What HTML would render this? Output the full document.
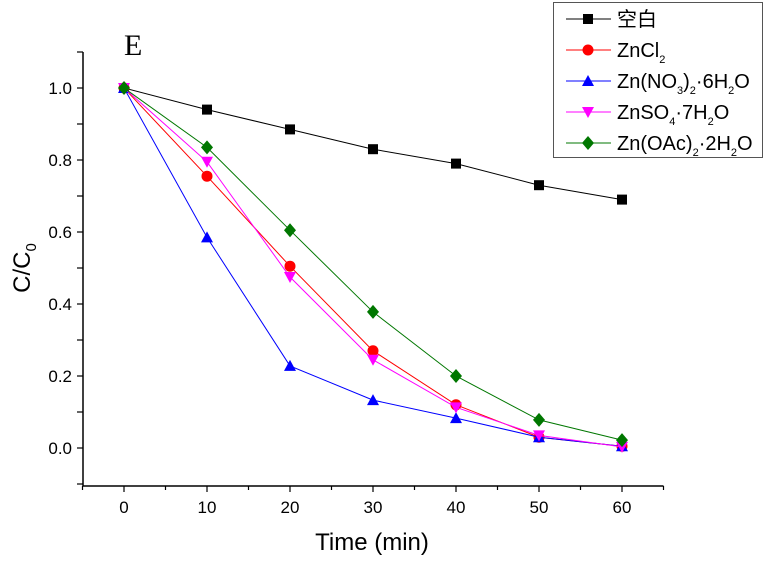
<!DOCTYPE html>
<html><head><meta charset="utf-8"><style>
body{margin:0;background:#fff}
svg text{font-family:"Liberation Sans","Noto Sans CJK SC",sans-serif}
</style></head><body>
<svg id="chart" width="765" height="557" xmlns="http://www.w3.org/2000/svg">
<g id="axes"></g><g id="series"></g>
<text x="124" y="55" style="font-family:'Liberation Serif',serif" font-size="30">E</text>
<text x="372" y="550" text-anchor="middle" font-size="24">Time (min)</text>
<text transform="translate(30,268) rotate(-90)" text-anchor="middle" font-size="24">C/C<tspan font-size="15" dy="6">0</tspan></text>
<g id="legend"><rect x="553.5" y="2.5" width="209" height="155" fill="#fff" stroke="#555"/></g>
</svg>
<script>
const times=[0,10,20,30,40,50,60];
const blank=[1,0.94,0.885,0.83,0.79,0.73,0.69];
const zncl2=[1,0.755,0.505,0.27,0.12,0.03,0.005];
const znno3=[1,0.585,0.228,0.133,0.083,0.03,0.005];
const znso4=[1,0.795,0.475,0.245,0.113,0.035,0.003];
const znoac=[1,0.835,0.605,0.378,0.2,0.078,0.022];
const xTicks=[0,10,20,30,40,50,60];
const yTicks=[0,0.2,0.4,0.6,0.8,1.0];
const NS="http://www.w3.org/2000/svg";
const X=v=>124+v*8.3, Y=v=>448-v*360;
function mk(t,a,p){const e=document.createElementNS(NS,t);for(const k in a)e.setAttribute(k,a[k]);p.appendChild(e);return e;}
const ax=document.getElementById('axes');
const xa=mk('line',{x1:83,y1:486,x2:X(65),y2:486,stroke:'#000','stroke-width':1.5},ax);


const ya=mk('line',{x1:83,y1:52,x2:83,y2:486,stroke:'#000','stroke-width':1.5},ax);


for(let v=-5;v<=65;v+=5){const maj=v%10===0;mk('line',{x1:X(v),y1:486,x2:X(v),y2:486+(maj?6:4),stroke:'#000','stroke-width':1.2},ax);}
for(let v=-0.1;v<=1.101;v+=0.1){mk('line',{x1:83,y1:Y(v),x2:77,y2:Y(v),stroke:'#000','stroke-width':1.2},ax);}
xTicks.forEach(t=>{const e=mk('text',{x:X(t),y:513,'text-anchor':'middle','font-size':17},ax);e.textContent=t;

});
yTicks.forEach(t=>{const e=mk('text',{x:72,y:Y(t)+6,'text-anchor':'end','font-size':17},ax);e.textContent=t.toFixed(1);

});
function marker(p,shape,x,y,c){
 if(shape==='sq')return mk('rect',{x:x-5,y:y-5,width:10,height:10,fill:c},p);
 if(shape==='ci')return mk('circle',{cx:x,cy:y,r:5.5,fill:c},p);
 if(shape==='up')return mk('polygon',{points:`${x},${y-6} ${x-6},${y+5} ${x+6},${y+5}`,fill:c},p);
 if(shape==='dn')return mk('polygon',{points:`${x-6},${y-5} ${x+6},${y-5} ${x},${y+6}`,fill:c},p);
 return mk('polygon',{points:`${x},${y-7} ${x+6},${y} ${x},${y+7} ${x-6},${y}`,fill:c},p);
}
const S=[[blank,'#000','sq','blank'],[zncl2,'#f00','ci','zncl2'],[znno3,'#00f','up','znno3'],[znso4,'#f0f','dn','znso4'],[znoac,'#070','di','znoac']];
const sg=document.getElementById('series');
S.forEach(([d,c,sh,n])=>{const g=mk('g',{},sg);


mk('polyline',{points:d.map((v,i)=>X(times[i])+','+Y(v)).join(' '),fill:'none',stroke:c,'stroke-width':1},g);
d.forEach((v,i)=>{const m=marker(g,sh,X(times[i]),Y(v),c);

});});
const lg=document.getElementById('legend');
const labels=['空白','ZnCl<tspan font-size="11" dy="6">2</tspan>','Zn(NO<tspan font-size="11" dy="6">3</tspan><tspan dy="-6">)</tspan><tspan font-size="11" dy="6">2</tspan><tspan dy="-6">·6H</tspan><tspan font-size="11" dy="6">2</tspan><tspan dy="-6">O</tspan>','ZnSO<tspan font-size="11" dy="6">4</tspan><tspan dy="-6">·7H</tspan><tspan font-size="11" dy="6">2</tspan><tspan dy="-6">O</tspan>','Zn(OAc)<tspan font-size="11" dy="6">2</tspan><tspan dy="-6">·2H</tspan><tspan font-size="11" dy="6">2</tspan><tspan dy="-6">O</tspan>'];
S.forEach(([d,c,sh,n],i)=>{const y=19+i*31;const g=mk('g',{},lg);


mk('line',{x1:566,y1:y,x2:611,y2:y,stroke:c,'stroke-width':1},g);marker(g,sh,588,y,c);
const t=mk('text',{x:617,y:y+7,'font-size':20},g);t.innerHTML=labels[i];});
</script>
</body></html>
